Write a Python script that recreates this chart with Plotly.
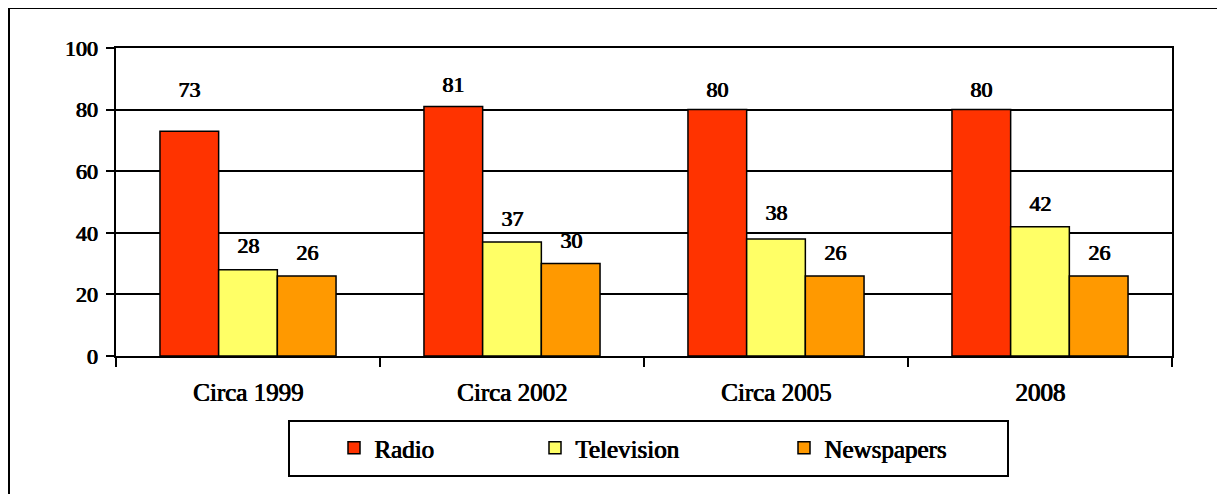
import plotly.graph_objects as go

categories = ["Circa 1999", "Circa 2002", "Circa 2005", "2008"]
radio = [73, 81, 80, 80]
television = [28, 37, 38, 42]
newspapers = [26, 30, 26, 26]

series_names = ["Radio", "Television", "Newspapers"]
series_values = [radio, television, newspapers]
series_colors = ["#FF3300", "#FFFF66", "#FF9900"]
# pixel lift of each data label above its bar (style only)
label_lift = [[42, 22, 20, 20], [24, 24, 26, 23], [23, 23, 23, 23]]

FONT = "Times New Roman"
SHADOW = "0.9px 0 0 black, 0.45px 0 0 black"  # emulate bold weight
OFF = 8  # page body margin
W, H = 1225, 494
# plot area in screen pixels: x 116..1172, y 48..356
L, T = 116 - OFF, 48 - OFF
R = W - (1172 - OFF)
B = H - (356 - OFF)
PW, PH = W - L - R, H - T - B
BARGAP = 0.333


def px_x(p):
    return (p - OFF - L) / PW


def px_y(p):
    return (H - B - (p - OFF)) / PH


def bold(size):
    return dict(family=FONT, size=size, color="black", shadow=SHADOW)


fig = go.Figure()
legend_ids = ["legend", "legend2", "legend3"]
for name, vals, col, lg in zip(series_names, series_values, series_colors, legend_ids):
    fig.add_trace(go.Bar(
        x=categories, y=vals, name=name,
        marker=dict(color=col, line=dict(color="black", width=1.5)),
        legend=lg,
    ))

# data labels
nser = len(series_values)
bw = (1 - BARGAP) / nser
for s, vals in enumerate(series_values):
    for i, v in enumerate(vals):
        fig.add_annotation(
            x=i + (s - (nser - 1) / 2) * bw, y=v, xref="x", yref="y",
            text=str(v), showarrow=False, yanchor="middle",
            yshift=label_lift[s][i], font=bold(22),
        )

# outer frame
fig.add_shape(type="rect", xref="paper", yref="paper",
              x0=px_x(9), x1=px_x(1260), y0=px_y(8), y1=px_y(530),
              line=dict(color="black", width=2), layer="below")
# legend box
fig.add_shape(type="rect", xref="paper", yref="paper",
              x0=px_x(289), x1=px_x(1008), y0=px_y(476), y1=px_y(421),
              line=dict(color="black", width=2), layer="below")

legend_marker_px = [353, 554, 803]
leg_common = dict(orientation="h", yanchor="middle", xanchor="left",
                  bgcolor="rgba(0,0,0,0)", borderwidth=0, itemwidth=30,
                  font=bold(25))
for lg, mx in zip(legend_ids, legend_marker_px):
    fig.update_layout({lg: dict(x=px_x(mx - 19), y=px_y(448), **leg_common)})

fig.update_layout(
    width=W, height=H,
    margin=dict(l=L, r=R, t=T, b=B),
    paper_bgcolor="white", plot_bgcolor="white",
    barmode="group", bargap=BARGAP, bargroupgap=0,
    font=dict(family=FONT, color="black"),
    showlegend=True,
)
fig.update_xaxes(
    type="category", showline=True, linecolor="black", linewidth=2, mirror=True,
    ticks="outside", tickson="boundaries", ticklen=9, tickwidth=2, tickcolor="black",
    tickfont=bold(25), ticklabelstandoff=13, showgrid=False,
)
fig.update_yaxes(
    range=[0, 100], dtick=20, showline=True, linecolor="black", linewidth=2, mirror=True,
    ticks="outside", ticklen=8, tickwidth=2, tickcolor="black",
    showgrid=True, gridcolor="black", gridwidth=2, zeroline=False,
    tickfont=bold(22), ticklabelstandoff=4,
)

fig.write_html("out.html")
